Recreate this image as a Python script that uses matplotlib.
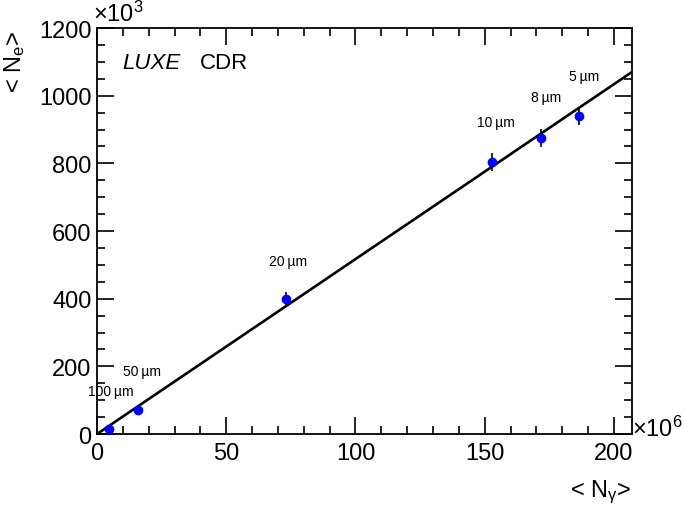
import matplotlib
matplotlib.use("Agg")
import matplotlib.pyplot as plt
import numpy as np
from matplotlib.ticker import MultipleLocator

plt.rcParams['font.family'] = ['Liberation Sans', 'DejaVu Sans']
plt.rcParams['mathtext.fontset'] = 'custom'
plt.rcParams['mathtext.rm'] = 'Liberation Sans'
plt.rcParams['mathtext.it'] = 'Liberation Sans'

# data: <N_gamma> [x10^6], <N_e> [x10^3]
spot = ["100", "50", "20", "10", "8", "5"]
n_gamma = [4.6, 15.9, 73.0, 152.8, 171.8, 186.5]
n_e = [15, 71, 399, 805, 875, 940]
n_e_err = [10, 12, 20, 27, 27, 27]
# label anchor points (data coords)
lab_x = [-3.5, 10.0, 66.5, 147.0, 168.0, 182.6]
lab_y = [127, 186, 511, 922, 996, 1058]
fit_slope = 5.17
fit_range = [1.0, 206.5]

fig = plt.figure(figsize=(6.85, 5.10), dpi=100)
ax = fig.add_axes([0.1416, 0.147, 0.781, 0.796])

xf = np.array(fit_range)
ax.plot(xf, fit_slope * xf, color="black", lw=1.9, zorder=2)
ax.errorbar(n_gamma, n_e, yerr=n_e_err, fmt="o", color="#0000ff", ecolor="black",
            elinewidth=1.2, capsize=0, markersize=6, zorder=3)

for s, x, y in zip(spot, lab_x, lab_y):
    ax.text(x, y, s + "\u2009\u00b5m", fontsize=10, ha="left", va="center")

ax.set_xlim(0, 207)
ax.set_ylim(0, 1200)
ax.xaxis.set_major_locator(MultipleLocator(50))
ax.xaxis.set_minor_locator(MultipleLocator(10))
ax.yaxis.set_major_locator(MultipleLocator(200))
ax.yaxis.set_minor_locator(MultipleLocator(50))
ax.tick_params(which="both", direction="in", top=True, right=True, width=1.2,
               labelsize=17)
ax.tick_params(which="major", length=12)
ax.tick_params(which="minor", length=6)
ax.tick_params(axis="x", pad=6)
ax.tick_params(axis="y", pad=4)
for sp in ax.spines.values():
    sp.set_linewidth(1.3)

ax.text(0.048, 0.915, "LUXE", transform=ax.transAxes, fontsize=16,
        style="italic", ha="left", va="center")
ax.text(0.193, 0.915, "CDR", transform=ax.transAxes, fontsize=16,
        ha="left", va="center")

fig.text(0.136, 0.972, r"$\times$10$^{3}$", fontsize=17, ha="left", va="center")
fig.text(0.923, 0.158, r"$\times$10$^{6}$", fontsize=17, ha="left", va="center")

fig.text(0.922, 0.035, r"< N$_{\gamma}$>", fontsize=17, ha="right", va="center")
fig.text(0.021, 0.94, r"< N$_{e}$>", fontsize=17, ha="center", va="top",
         rotation=90)

fig.savefig("out.png", dpi=100)
